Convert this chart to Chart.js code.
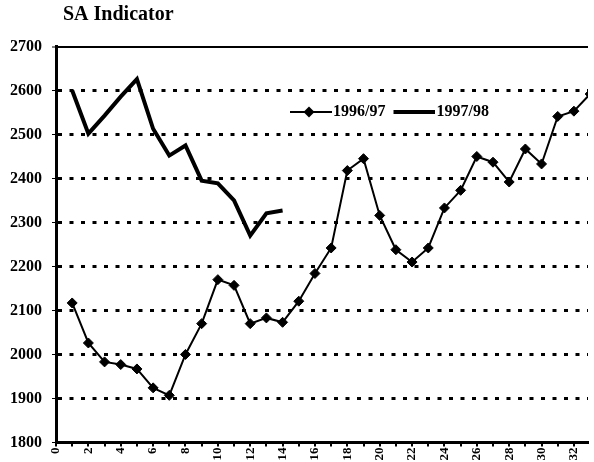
<!DOCTYPE html>
<html><head><meta charset="utf-8">
<script src="https://cdn.jsdelivr.net/npm/chart.js@4.4.0/dist/chart.umd.min.js"></script>
<style>html,body{margin:0;padding:0;background:#fff}canvas{display:block}</style>
</head><body>
<canvas id="c" width="594" height="462"></canvas>
<script>
// ---- data ----
const chartTitle = 'SA Indicator';
const seriesNames = ['1996/97', '1997/98'];
const weeks = [1,2,3,4,5,6,7,8,9,10,11,12,13,14,15,16,17,18,19,20,21,22,23,24,25,26,27,28,29,30,31,32,33];
const values9697 = [2117,2026,1983,1977,1967,1924,1907,2000,2070,2170,2157,2070,2083,2073,2121,2184,2242,2418,2445,2316,2238,2210,2242,2333,2373,2450,2437,2392,2467,2433,2541,2553,2592];
const values9798 = [2600,2502,2543,2586,2626,2513,2452,2475,2395,2389,2350,2270,2321,2327];
const xTickLabels = ['0','2','4','6','8','10','12','14','16','18','20','22','24','26','28','30','32'];
const yMin = 1800, yMax = 2700, yStep = 100;

const serif = 'Liberation Serif, Times New Roman, serif';

function legendSymbol(lineW, diamond) {
  const c = document.createElement('canvas');
  c.width = 50; c.height = 14;
  const g = c.getContext('2d');
  g.strokeStyle = '#000'; g.lineWidth = lineW;
  g.beginPath(); g.moveTo(8, 7); g.lineTo(50, 7); g.stroke();
  if (diamond) {
    g.fillStyle = '#000';
    g.beginPath(); g.moveTo(27, 1.5); g.lineTo(32.5, 7); g.lineTo(27, 12.5); g.lineTo(21.5, 7); g.closePath(); g.fill();
  }
  return c;
}
const legendSymbols = [legendSymbol(2, true), legendSymbol(4, false)];

// place title and legend where the reference has them
const placeBoxes = {
  id: 'placeBoxes',
  afterLayout(chart) {
    const ca = chart.chartArea;
    const t = chart.titleBlock;
    if (t) { const w = t.right - t.left; t.left = ca.left + 7; t.right = t.left + w; }
    const l = chart.legend;
    if (l) {
      const w = l.width;
      l.left = ca.left + 226; l.right = l.left + w;
      l.top = ca.top + 50.5; l.bottom = l.top + 40;
    }
  }
};

new Chart(document.getElementById('c'), {
  type: 'line',
  data: {
    datasets: [
      {
        label: seriesNames[0],
        data: weeks.map((w, i) => ({x: w, y: values9697[i]})),
        borderColor: '#000', backgroundColor: '#000',
        borderWidth: 2, tension: 0,
        pointStyle: 'rectRot', pointRadius: 5, pointBorderWidth: 1,
        pointBackgroundColor: '#000', pointBorderColor: '#000'
      },
      {
        label: seriesNames[1],
        data: values9798.map((v, i) => ({x: weeks[i], y: v})),
        borderColor: '#000', backgroundColor: '#000',
        borderWidth: 4, tension: 0, pointRadius: 0
      }
    ]
  },
  options: {
    responsive: false, animation: false, devicePixelRatio: 1, events: [],
    layout: {padding: {left: 0, right: 0, top: 0, bottom: 0}},
    plugins: {
      title: {
        display: true, text: chartTitle, align: 'start', color: '#000',
        font: {family: serif, size: 20, weight: 'bold', lineHeight: 1.2},
        padding: {top: 3, bottom: 0}
      },
      legend: {
        display: true, position: 'top', align: 'start', maxHeight: 19.5,
        labels: {
          usePointStyle: true, pointStyleWidth: 36, padding: 7, color: '#000',
          font: {family: serif, size: 16, weight: 'bold'},
          generateLabels(chart) {
            const items = Chart.defaults.plugins.legend.labels.generateLabels(chart);
            items.forEach((it, i) => { it.pointStyle = legendSymbols[i]; });
            return items;
          }
        }
      },
      tooltip: {enabled: false}
    },
    scales: {
      x: {
        type: 'linear', min: 0, max: 32.87,
        ticks: {
          stepSize: 1, includeBounds: false, autoSkip: false,
          minRotation: 90, maxRotation: 90, padding: 1, color: '#000',
          font: {family: serif, size: 13, weight: 'bold'},
          callback: v => xTickLabels.includes(String(v)) ? String(v) : ''
        },
        grid: {drawOnChartArea: false, drawTicks: true, tickLength: 4, color: '#000', lineWidth: 2},
        border: {display: true, color: '#000', width: 3}
      },
      y: {
        min: yMin, max: yMax,
        afterFit: s => { s.width = 56; },
        ticks: {
          stepSize: yStep, padding: 10, color: '#000',
          font: {family: serif, size: 16, weight: 'bold'},
          callback: v => String(v)
        },
        grid: {
          drawTicks: true, tickLength: 4, tickColor: '#000', tickWidth: 1,
          color: c => (c.tick && c.tick.value === yMin) ? 'rgba(0,0,0,0)' : '#000',
          lineWidth: c => (c.tick && c.tick.value === yMax) ? 2 : 3
        },
        border: {
          display: true, color: '#000', width: 3,
          dash: c => (c.tick && c.tick.value === yMax) ? [] : [4, 7.5]
        }
      }
    }
  },
  plugins: [placeBoxes]
});
</script>
</body></html>
